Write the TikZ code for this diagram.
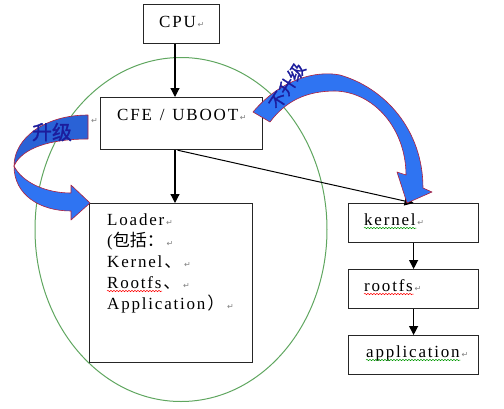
\documentclass[tikz,border=0pt]{standalone}
\usepackage{fontspec}
\setmainfont{Liberation Serif}
\newfontfamily\zhfont{Noto Sans CJK SC}
\newfontfamily\zhbold{Noto Sans CJK SC}[FakeBold=1.5]
\newfontfamily\retfont{DejaVu Sans}
\usetikzlibrary{arrows.meta,decorations.pathmorphing}

\definecolor{upblue}{HTML}{2F74F2}
\definecolor{backblue}{HTML}{2A62D6}
\definecolor{rimred}{HTML}{B0203C}
\definecolor{labelnavy}{HTML}{1C1C9C}
\definecolor{ovalgreen}{HTML}{5FA65F}

\newcommand\pmark{{\retfont\fontsize{8}{8}\selectfont\textcolor{gray}{↵}}}
\newcommand\zh[1]{{\zhfont #1}}
% spread the letters a little, as the old word processor did
\newcommand\wide[1]{\wideloop#1\relax}
\def\wideloop#1{\ifx#1\relax\else#1\kern1.8pt\expandafter\wideloop\fi}

\begin{document}
\begin{tikzpicture}[x=1pt, y=-1pt,
  box/.style={draw=black!85, line width=1.2pt, fill=white, anchor=north west, inner sep=0},
  lbl/.style={anchor=base west, inner sep=0, font=\fontsize{17}{21}\selectfont},
  arr/.style={-{Triangle[length=9pt,width=9pt]}, line width=1.2pt},
  wave/.style={decorate, decoration={snake, amplitude=0.7pt, segment length=3pt}, line width=0.5pt},
  band/.style={draw=rimred, line width=0.6pt, line join=round}]
  \useasboundingbox (0,0) rectangle (504,408);
  % oval round the boot part
  \draw[ovalgreen, line width=1pt] (181,229.5) ellipse (146 and 172);
  \node[box, minimum width=76, minimum height=39] (cpu) at (143,4) {};
  \node[box, minimum width=162, minimum height=52] (cfe) at (100,97) {};
  \node[box, minimum width=163, minimum height=159] (loader) at (89,203) {};
  \node[box, minimum width=130, minimum height=39] (kernel) at (348,203) {};
  \node[box, minimum width=130, minimum height=39] (rootfs) at (348,269) {};
  \node[box, minimum width=130, minimum height=39] (app) at (348,335) {};
  \coordinate (spine) at (175,0);
  \draw[arr] (cpu.south -| spine) -- (cfe.north -| spine);
  \draw[arr] (cfe.south -| spine) -- (loader.north -| spine);
  \draw[arr, line width=1pt] ([xshift=-4pt]cfe.south) -- (kernel.north);
  \draw[arr] (kernel.south) -- (rootfs.north);
  \draw[arr] (rootfs.south) -- (app.north);
  % texts
  \node[lbl] (cputxt) at (159,27) {\wide{CPU}\pmark};
  \node[lbl] (cfetxt) at (117,120) {\wide{CFE~/~UBOOT}\pmark};
  \node[lbl] (stray) at (91,123) {\pmark};
  \node[lbl] (ld0) at (107,225) {\wide{Loader}\pmark};
  \node[lbl] (ld1) at (107,246) {(\zh{包括：}\,\pmark};
  \node[lbl] (ld2) at (107,267) {\wide{Kernel}\zh{、}\,\pmark};
  \node[lbl] (ld3) at (107,288) {\wide{Rootfs}\zh{、}\,\pmark};
  \node[lbl] (ld4) at (107,309) {\wide{Application}\zh{）}\,\pmark};
  \node[lbl] (kerneltxt) at (364,225) {\wide{kernel}\pmark};
  \node[lbl] (rootfstxt) at (364,291) {\wide{rootfs}\pmark};
  \node[lbl] (apptxt) at (366,357) {\wide{application}\pmark};
  \draw[wave, red] ([yshift=-3pt]ld3.base west) -- ++(55,0);
  \draw[wave, green!60!black] ([yshift=-3pt]kerneltxt.base west) -- ([xshift=-8pt,yshift=-3pt]kerneltxt.base east);
  \draw[wave, red] ([yshift=-3pt]rootfstxt.base west) -- ([xshift=-8pt,yshift=-3pt]rootfstxt.base east);
  \draw[wave, green!60!black] ([yshift=-3pt]apptxt.base west) -- ([xshift=-8pt,yshift=-3pt]apptxt.base east);
  % upgrade arrow
  \filldraw[band, fill=backblue] (88,115) .. controls (45,115) and (14,138) .. (14,166)
    .. controls (22,148) and (50,139) .. (88,139) -- cycle;
  \filldraw[band, fill=upblue] (14,166) .. controls (14,195) and (40,211) .. (71,211)
    -- (71,220) -- (90,203) -- (71,185) -- (71,193)
    .. controls (45,193) and (22,182) .. (14,166) -- cycle;
  % no upgrade arrow
  \filldraw[band, fill=upblue] (253,112) .. controls (280,80) and (315,70) .. (340,75)
    .. controls (385,88) and (423,130) .. (423,188) -- (432,192) -- (407,203) -- (397,172) -- (406,175)
    .. controls (406,130) and (375,92) .. (335,91) .. controls (305,91) and (285,102) .. (270,122) -- cycle;
  \node[text=labelnavy, font=\zhbold\fontsize{20}{20}\selectfont] (up) at (52,132) {升级};
  \node[rotate=57, text=labelnavy, font=\zhbold\fontsize{17}{17}\selectfont] (noup) at (287,86) {不升级};
\end{tikzpicture}
\end{document}
